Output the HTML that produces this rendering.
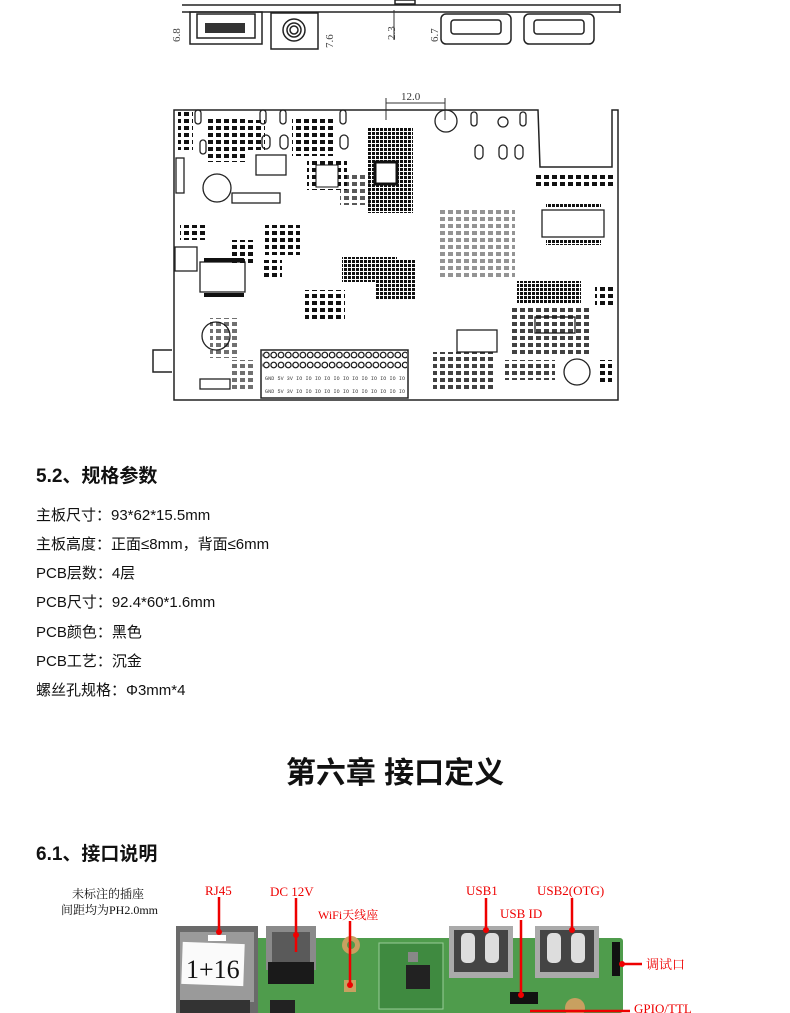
<!DOCTYPE html>
<html><head><meta charset="utf-8"><style>
body{margin:0;background:#fff;width:790px;height:1013px;overflow:hidden;position:relative;font-family:"Liberation Sans","Noto Sans CJK SC",sans-serif;color:#111}
.t{position:absolute;white-space:nowrap}
.h{font-weight:bold;font-size:19px;left:36px}
.s{font-size:15px;left:36px}
</style></head><body>
<svg width="790" height="1013" style="position:absolute;left:0;top:0" xmlns="http://www.w3.org/2000/svg">
<defs>
<pattern id="sq" width="4" height="4" patternUnits="userSpaceOnUse"><rect width="3" height="3" fill="#111"/></pattern>
<pattern id="sp" width="8" height="7" patternUnits="userSpaceOnUse"><rect width="5" height="4" fill="#111"/></pattern>
<pattern id="p" width="7.3" height="10" patternUnits="userSpaceOnUse"><circle cx="3.6" cy="5" r="2.8" fill="#fff" stroke="#111" stroke-width="1.2"/></pattern>
</defs>
<!-- top side view -->
<g fill="none" stroke="#222" stroke-width="1.5">
<line x1="182" y1="5" x2="620" y2="5"/><line x1="182" y1="12" x2="620" y2="12"/><line x1="620" y1="4" x2="620" y2="13"/>
<rect x="190" y="12" width="72" height="32"/><rect x="197" y="14" width="58" height="24"/>
<rect x="271" y="13" width="47" height="36"/><circle cx="294" cy="30" r="11"/><circle cx="294" cy="30" r="7"/><circle cx="294" cy="30" r="4"/>
<rect x="395" y="0" width="20" height="4"/>
<rect x="441" y="14" width="70" height="30" rx="5"/><rect x="451" y="20" width="50" height="14" rx="3"/>
<rect x="524" y="14" width="70" height="30" rx="5"/><rect x="534" y="20" width="50" height="14" rx="3"/>
</g>
<g fill="#333"><rect x="205" y="23" width="40" height="10"/></g>
<g font-family="Liberation Serif" font-size="11" fill="#444">
<text transform="translate(180,42) rotate(-90)">6.8</text>
<text transform="translate(333,48) rotate(-90)">7.6</text>
<text transform="translate(395,40) rotate(-90)">2.3</text>
<text transform="translate(438,42) rotate(-90)">6.7</text>
</g>
<line x1="394" y1="10" x2="394" y2="40" stroke="#333"/>
<!-- PCB top view -->
<g fill="none" stroke="#222" stroke-width="1.5">
<path d="M174 110 L174 400 L618 400 L618 110 L612 110 L612 167 L540 167 L538 110 Z"/>
<path d="M172 350 L153 350 L153 372 L172 372"/>
<rect x="261" y="350" width="147" height="48"/>
</g>
<line x1="386" y1="98" x2="386" y2="120" stroke="#333"/><line x1="445" y1="98" x2="445" y2="120" stroke="#333"/>
<line x1="386" y1="103" x2="445" y2="103" stroke="#333"/>
<text x="401" y="100" font-family="Liberation Serif" font-size="11" fill="#333">12.0</text>
<g fill="none" stroke="#222" stroke-width="1.3">
<circle cx="446" cy="121" r="11"/><circle cx="217" cy="188" r="14"/><circle cx="216" cy="336" r="14"/><circle cx="577" cy="372" r="13"/>
<circle cx="503" cy="122" r="5"/>
<rect x="195" y="110" width="6" height="14" rx="3"/><rect x="200" y="140" width="6" height="14" rx="3"/>
<rect x="260" y="110" width="6" height="14" rx="3"/><rect x="280" y="110" width="6" height="14" rx="3"/><rect x="340" y="110" width="6" height="14" rx="3"/>
<rect x="262" y="135" width="8" height="14" rx="4"/><rect x="280" y="135" width="8" height="14" rx="4"/><rect x="340" y="135" width="8" height="14" rx="4"/>
<rect x="471" y="112" width="6" height="14" rx="3"/><rect x="520" y="112" width="6" height="14" rx="3"/>
<rect x="475" y="145" width="8" height="14" rx="4"/><rect x="499" y="145" width="8" height="14" rx="4"/><rect x="515" y="145" width="8" height="14" rx="4"/>
<rect x="542" y="210" width="62" height="27"/><rect x="535" y="317" width="40" height="16"/>
<rect x="175" y="247" width="22" height="24"/><rect x="200" y="262" width="45" height="30"/>
<rect x="256" y="155" width="30" height="20"/><rect x="232" y="193" width="48" height="10"/>
<rect x="457" y="330" width="40" height="22"/><rect x="200" y="379" width="30" height="10"/>
<rect x="176" y="158" width="8" height="35"/>
</g>
<g>
<rect x="368" y="127" width="45" height="86" fill="url(#sq)"/>
<rect x="375" y="162" width="22" height="22" fill="#fff" stroke="#111" stroke-width="3"/>
<rect x="208" y="118" width="40" height="44" fill="url(#sp)"/>
<rect x="292" y="118" width="42" height="38" fill="url(#sp)"/>
<rect x="307" y="160" width="40" height="30" fill="url(#sp)"/>
<rect x="316" y="165" width="22" height="22" fill="#fff" stroke="#111"/>
<rect x="342" y="257" width="55" height="25" fill="url(#sq)"/>
<rect x="375" y="260" width="40" height="40" fill="url(#sq)"/>
<rect x="305" y="290" width="40" height="32" fill="url(#sp)"/>
<rect x="517" y="281" width="64" height="22" fill="url(#sq)"/>
<rect x="533" y="172" width="80" height="16" fill="url(#sp)"/>
<rect x="546" y="203" width="55" height="5" fill="url(#sq)"/><rect x="546" y="240" width="55" height="5" fill="url(#sq)"/>
<rect x="204" y="258" width="40" height="4" fill="#111"/><rect x="204" y="293" width="40" height="4" fill="#111"/>
<rect x="230" y="240" width="25" height="25" fill="url(#sp)"/>
<rect x="265" y="225" width="35" height="30" fill="url(#sp)"/>
<rect x="262" y="260" width="20" height="20" fill="url(#sp)"/>
<rect x="180" y="225" width="25" height="15" fill="url(#sp)"/>
<rect x="178" y="110" width="15" height="40" fill="url(#sp)"/>
<rect x="440" y="210" width="75" height="70" fill="url(#sp)" opacity=".45"/>
<rect x="510" y="305" width="80" height="50" fill="url(#sp)" opacity=".8"/>
<rect x="433" y="352" width="60" height="40" fill="url(#sp)" opacity=".8"/>
<rect x="505" y="360" width="50" height="20" fill="url(#sp)" opacity=".8"/>
<rect x="210" y="318" width="30" height="40" fill="url(#sp)" opacity=".6"/>
<rect x="230" y="360" width="25" height="30" fill="url(#sp)" opacity=".6"/>
<rect x="595" y="285" width="20" height="20" fill="url(#sp)"/>
<rect x="597" y="360" width="15" height="25" fill="url(#sp)"/>
<rect x="240" y="120" width="25" height="30" fill="url(#sp)"/>
<rect x="340" y="175" width="30" height="30" fill="url(#sp)" opacity=".7"/>
</g>
<rect x="262" y="351" width="145" height="20" fill="url(#p)"/>
<g font-family="Liberation Mono" font-size="5" fill="#333"><text x="265" y="380" textLength="140">GND 5V 3V IO IO IO IO IO IO IO IO IO IO IO IO</text><text x="265" y="393" textLength="140">GND 5V 3V IO IO IO IO IO IO IO IO IO IO IO IO</text></g>
<!-- bottom photo -->
<rect x="255" y="938" width="368" height="75" fill="#4f9c4c" rx="3"/>
<rect x="176" y="926" width="82" height="87" fill="#6a6a6a"/><rect x="180" y="932" width="74" height="70" fill="#9a9a9a"/>
<rect x="182" y="943" width="62" height="42" fill="#fafafa" transform="rotate(2 213 964)"/>
<text x="186" y="978" font-family="Liberation Serif" font-size="26" fill="#111">1+16</text>
<rect x="208" y="935" width="18" height="6" fill="#fff"/>
<rect x="180" y="1000" width="70" height="13" fill="#333"/>
<rect x="266" y="926" width="50" height="44" fill="#8a8a8a"/><rect x="272" y="932" width="38" height="30" fill="#5a5a5a"/>
<rect x="268" y="962" width="46" height="22" fill="#1a1a1a"/>
<circle cx="351" cy="945" r="9" fill="#c8a060"/><circle cx="351" cy="945" r="4" fill="#4f9c4c"/>
<rect x="344" y="980" width="12" height="12" fill="#c8a060"/>
<rect x="379" y="943" width="64" height="66" fill="#3f8a40" stroke="#9c9" stroke-width="1"/>
<rect x="406" y="965" width="24" height="24" fill="#222"/><rect x="408" y="952" width="10" height="10" fill="#888"/>
<rect x="449" y="926" width="64" height="52" fill="#aaa"/><rect x="454" y="930" width="54" height="42" fill="#444"/>
<rect x="461" y="933" width="14" height="30" fill="#ddd" rx="5"/><rect x="485" y="933" width="14" height="30" fill="#ddd" rx="5"/>
<rect x="535" y="926" width="64" height="52" fill="#aaa"/><rect x="540" y="930" width="54" height="42" fill="#444"/>
<rect x="547" y="933" width="14" height="30" fill="#ddd" rx="5"/><rect x="571" y="933" width="14" height="30" fill="#ddd" rx="5"/>
<rect x="510" y="992" width="28" height="12" fill="#111"/>
<circle cx="575" cy="1008" r="10" fill="#c8a060"/>
<rect x="612" y="942" width="8" height="34" fill="#111"/>
<rect x="270" y="1000" width="25" height="13" fill="#222"/>
<g stroke="#e00" stroke-width="2.5" fill="none">
<line x1="219" y1="897" x2="219" y2="932"/><line x1="296" y1="898" x2="296" y2="952"/><line x1="350" y1="921" x2="350" y2="985"/>
<line x1="486" y1="898" x2="486" y2="930"/><line x1="521" y1="920" x2="521" y2="995"/><line x1="572" y1="898" x2="572" y2="930"/>
<line x1="622" y1="964" x2="642" y2="964"/><line x1="530" y1="1011" x2="630" y2="1011"/>
</g>
<g fill="#e00"><circle cx="219" cy="932" r="3"/><circle cx="296" cy="935" r="3"/><circle cx="350" cy="985" r="3"/><circle cx="486" cy="930" r="3"/><circle cx="572" cy="930" r="3"/><circle cx="622" cy="964" r="3"/><circle cx="521" cy="995" r="3"/></g>
<g font-family="Liberation Serif,Noto Serif CJK SC" fill="#e00" font-size="13">
<text x="205" y="895">RJ45</text><text x="270" y="896">DC 12V</text><text x="318" y="919" font-size="12">WiFi天线座</text>
<text x="466" y="895">USB1</text><text x="537" y="895">USB2(OTG)</text><text x="500" y="918">USB ID</text>
<text x="646" y="969">调试口</text><text x="634" y="1013">GPIO/TTL</text>
</g>
<g font-family="Liberation Serif,Noto Serif CJK SC" fill="#111" font-size="12"><text x="72" y="898">未标注的插座</text><text x="61" y="914">间距均为PH2.0mm</text></g>
</svg>
<div class="t h" style="top:461px">5.2、规格参数</div>
<div class="t s" style="top:504px">主板尺寸：93*62*15.5mm</div>
<div class="t s" style="top:533px">主板高度：正面≤8mm，背面≤6mm</div>
<div class="t s" style="top:562px">PCB层数：4层</div>
<div class="t s" style="top:591px">PCB尺寸：92.4*60*1.6mm</div>
<div class="t s" style="top:621px">PCB颜色：黑色</div>
<div class="t s" style="top:650px">PCB工艺：沉金</div>
<div class="t s" style="top:679px">螺丝孔规格：Φ3mm*4</div>
<div class="t" style="top:748px;left:0;width:790px;text-align:center;font-weight:bold;font-size:30px">第六章 接口定义</div>
<div class="t h" style="top:839px">6.1、接口说明</div>
</body></html>
